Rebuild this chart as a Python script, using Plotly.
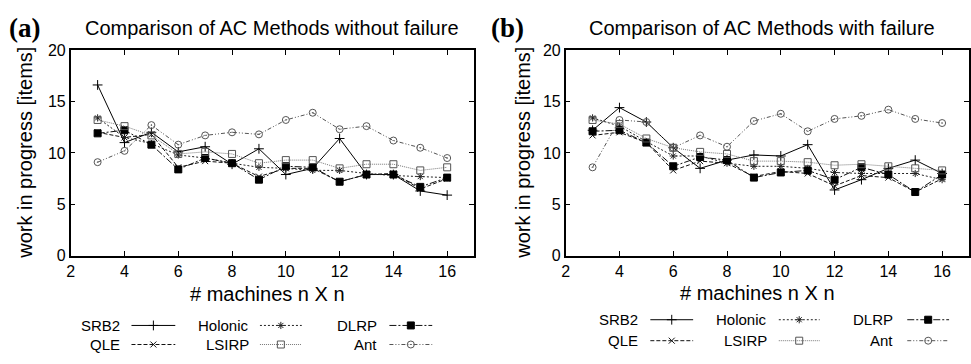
import plotly.graph_objects as go

machines = [3, 4, 5, 6, 7, 8, 9, 10, 11, 12, 13, 14, 15, 16]
series_names = ["SRB2", "QLE", "Holonic", "DLRP", "LSIRP", "Ant"]

# Panel (a): without failure
a_srb2    = [16.6, 11.0, 12.0, 10.1, 10.6, 8.9, 10.4, 7.9, 8.5, 11.4, 7.9, 7.9, 6.3, 5.9]
a_qle     = [12.0, 11.5, 11.8, 8.6, 9.2, 9.0, 7.7, 8.5, 8.5, 7.2, 7.9, 8.0, 6.5, 7.5]
a_holonic = [13.4, 11.5, 10.9, 9.8, 9.5, 9.0, 8.6, 8.5, 8.3, 8.3, 8.0, 7.8, 7.7, 7.6]
a_dlrp    = [11.9, 12.2, 10.8, 8.4, 9.5, 9.0, 7.4, 8.7, 8.6, 7.2, 7.9, 7.9, 6.7, 7.6]
a_lsirp   = [13.2, 12.6, 11.7, 9.9, 10.1, 9.9, 9.0, 9.3, 9.3, 8.5, 8.9, 8.9, 8.3, 8.6]
a_ant     = [9.1, 10.2, 12.7, 10.8, 11.7, 12.0, 11.8, 13.2, 13.9, 12.3, 12.6, 11.2, 10.5, 9.5]

# Panel (b): with failure
b_srb2    = [12.2, 14.4, 13.0, 10.5, 8.5, 9.3, 9.8, 9.7, 10.8, 6.4, 7.4, 8.5, 9.3, 8.0]
b_qle     = [11.7, 12.0, 11.0, 8.3, 9.2, 9.0, 7.7, 8.2, 8.0, 6.8, 7.8, 7.6, 6.2, 7.5]
b_holonic = [13.4, 12.6, 11.1, 9.7, 9.7, 9.0, 8.7, 8.7, 8.5, 8.1, 8.0, 8.0, 8.0, 7.4]
b_dlrp    = [12.1, 12.2, 11.0, 8.7, 9.6, 9.3, 7.6, 8.1, 8.3, 7.4, 8.6, 7.9, 6.2, 7.9]
b_lsirp   = [13.2, 12.8, 11.4, 10.5, 10.1, 9.9, 9.2, 9.2, 9.1, 8.8, 8.9, 8.7, 8.5, 8.3]
b_ant     = [8.6, 13.2, 13.0, 10.5, 11.7, 10.6, 13.1, 13.8, 12.1, 13.3, 13.6, 14.2, 13.3, 12.9]

x_ticks = [2, 4, 6, 8, 10, 12, 14, 16]
y_ticks = [0, 5, 10, 15, 20]

panel_a = [a_srb2, a_qle, a_holonic, a_dlrp, a_lsirp, a_ant]
panel_b = [b_srb2, b_qle, b_holonic, b_dlrp, b_lsirp, b_ant]

styles = {
    "SRB2":    dict(color="#000000", dash="solid", symbol="cross-thin-open", mcolor="#000000", size=7),
    "QLE":     dict(color="#111111", dash="4px,2px", symbol="x-thin-open", mcolor="#111111", size=6),
    "Holonic": dict(color="#222222", dash="2px,2px", symbol="asterisk-open", mcolor="#222222", size=6),
    "DLRP":    dict(color="#111111", dash="7px,2px,2px,2px", symbol="square", mcolor="#000000", size=7),
    "LSIRP":   dict(color="#777777", dash="1px,1px", symbol="square-open", mcolor="#555555", size=7),
    "Ant":     dict(color="#555555", dash="4px,2px,1px,2px,1px,2px", symbol="circle-open-dot", mcolor="#555555", size=7),
}

W, H = 971, 364
fig = go.Figure()

def add_panel(data, xa, ya):
    for name, vals in zip(series_names, data):
        s = styles[name]
        fig.add_trace(go.Scatter(
            x=machines, y=vals, mode="lines+markers", name=name, showlegend=False,
            line=dict(color=s["color"], width=1, dash=s["dash"]),
            marker=dict(symbol=s["symbol"], size=s["size"], color=s["mcolor"],
                        line=dict(color=s["mcolor"], width=1)),
            xaxis=xa, yaxis=ya, hoverinfo="skip"))

add_panel(panel_a, "x", "y")
add_panel(panel_b, "x2", "y2")

# Manual legends (text then line sample), on a hidden pixel-space axis
legend_layout = [
    ("SRB2", 118, 128, 172, 333), ("Holonic", 248, 257, 299, 333), ("DLRP", 377, 387, 430, 333),
    ("QLE", 118, 128, 172, 353), ("LSIRP", 248, 257, 299, 353), ("Ant", 377, 387, 430, 353),
    ("SRB2", 639, 649, 692, 327), ("Holonic", 768, 778, 819, 327), ("DLRP", 895, 907, 949, 327),
    ("QLE", 639, 649, 692, 349), ("LSIRP", 768, 778, 819, 349), ("Ant", 895, 907, 949, 349),
]
annotations = []
for name, tx, x0, x1, yy in legend_layout:
    s = styles[name]
    fig.add_trace(go.Scatter(
        x=[x0, x1], y=[yy, yy], mode="lines", showlegend=False, hoverinfo="skip",
        line=dict(color=s["color"], width=1, dash=s["dash"]), xaxis="x3", yaxis="y3"))
    fig.add_trace(go.Scatter(
        x=[(x0 + x1) / 2], y=[yy], mode="markers", showlegend=False, hoverinfo="skip",
        marker=dict(symbol=s["symbol"], size=s["size"], color=s["mcolor"],
                    line=dict(color=s["mcolor"], width=1)), xaxis="x3", yaxis="y3"))
    annotations.append(dict(x=tx / W, y=1 - yy / H, xref="paper", yref="paper",
                            text=name, showarrow=False, xanchor="right", yanchor="middle",
                            font=dict(size=15, color="#000")))

font_sans = "Liberation Sans, Arial, sans-serif"

for px_x, label, ycx in [(3, "(a)", 21), (487, "(b)", 521)]:
    annotations.append(dict(x=px_x / W, y=1 - 21 / H, xref="paper", yref="paper", text="<b>%s</b>" % label,
                            showarrow=False, xanchor="left", yanchor="middle",
                            font=dict(family="Liberation Serif, Times New Roman, serif", size=27, color="#000")))
    annotations.append(dict(x=ycx / W, y=1 - 152 / H, xref="paper", yref="paper",
                            text="work in progress [items]", textangle=-90, showarrow=False,
                            xanchor="center", yanchor="middle",
                            font=dict(size=20, color="#000")))

annotations.append(dict(x=269 / W, y=1 - 21 / H, xref="paper", yref="paper",
                        text="Comparison of AC Methods without failure", showarrow=False,
                        xanchor="center", yanchor="middle", font=dict(size=20, color="#000")))
annotations.append(dict(x=761 / W, y=1 - 21 / H, xref="paper", yref="paper",
                        text="Comparison of AC Methods with failure", showarrow=False,
                        xanchor="center", yanchor="middle", font=dict(size=20, color="#000")))
annotations.append(dict(x=265 / W, y=1 - 300 / H, xref="paper", yref="paper",
                        text="# machines n X n", showarrow=False,
                        xanchor="center", yanchor="middle", font=dict(size=20, color="#000")))
annotations.append(dict(x=757 / W, y=1 - 299 / H, xref="paper", yref="paper",
                        text="# machines n X n", showarrow=False,
                        xanchor="center", yanchor="middle", font=dict(size=20, color="#000")))

axis_common = dict(showgrid=False, zeroline=False, showline=True, linecolor="#000", linewidth=1.5,
                   mirror="ticks", ticks="inside", ticklen=5, tickcolor="#000",
                   tickfont=dict(size=16, color="#000"))

ydom = [1 - 260 / H, 1 - 44 / H]
fig.update_layout(
    width=W, height=H, margin=dict(l=0, r=0, t=0, b=0),
    paper_bgcolor="white", plot_bgcolor="rgba(0,0,0,0)",
    font=dict(family=font_sans, color="#000"),
    xaxis=dict(domain=[67 / W, 472 / W], range=[2, 17], tickvals=x_ticks, anchor="y", **axis_common),
    yaxis=dict(domain=ydom, range=[0, 20], tickvals=y_ticks, anchor="x", **axis_common),
    xaxis2=dict(domain=[564 / W, 969 / W], range=[2, 17], tickvals=x_ticks, anchor="y2", **axis_common),
    yaxis2=dict(domain=ydom, range=[0, 20], tickvals=y_ticks, anchor="x2", **axis_common),
    xaxis3=dict(domain=[0, 1], range=[0, W], visible=False, anchor="y3", fixedrange=True),
    yaxis3=dict(domain=[0, 1], range=[H, 0], visible=False, anchor="x3", fixedrange=True),
    annotations=annotations,
    showlegend=False,
)

fig.write_html("out.html", config={"displayModeBar": False},
               post_script="document.body.style.margin='0';document.body.style.overflow='hidden';")
